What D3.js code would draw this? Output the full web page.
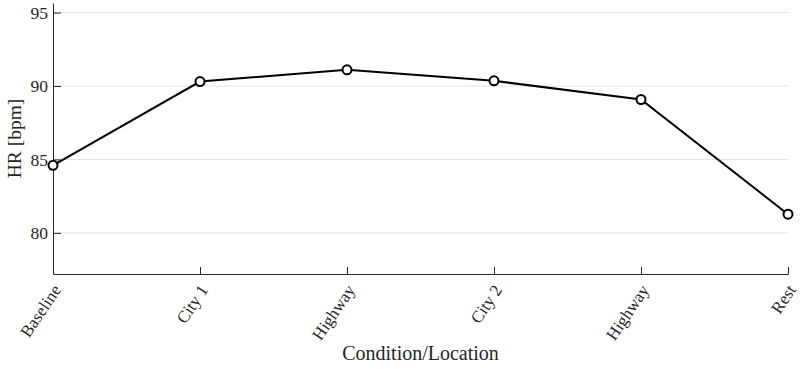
<!DOCTYPE html>
<html><head><meta charset="utf-8">
<script src="https://cdn.jsdelivr.net/npm/d3@7"></script>
<style>body{margin:0;background:#fff}</style>
</head><body>
<svg id="c" width="800" height="369"></svg>
<script>
const categories = ["Baseline","City 1","Highway","City 2","Highway","Rest"];
const hrValues = [84.6, 90.3, 91.1, 90.35, 89.08, 81.27];
const yTicks = [80, 85, 90, 95];
const yLabel = "HR [bpm]";
const xLabel = "Condition/Location";

const svg = d3.select("#c");
const L = 53, R = 788, T = 3, B = 274;
const font = "'Liberation Serif', 'DejaVu Serif', serif";
const x = d3.scaleLinear().domain([0, categories.length - 1]).range([L, R]);
const y = d3.scaleLinear().domain([77.2, 95.65]).range([B, T]);

// grid
svg.append("g").selectAll("line").data(yTicks).join("line")
  .attr("x1", L).attr("x2", R).attr("y1", d => y(d)).attr("y2", d => y(d))
  .attr("stroke", "#e3e3e3").attr("stroke-width", 1);

// y axis
const ya = svg.append("g").attr("transform", `translate(${L},0)`)
  .call(d3.axisLeft(y).tickValues(yTicks).tickSizeInner(-8).tickSizeOuter(0).tickPadding(5));
ya.select(".domain").attr("stroke", "#262626");
ya.selectAll(".tick line").attr("stroke", "#262626");
ya.selectAll("text").attr("font-family", font).attr("font-size", 17.5).attr("fill", "#262626");

// x axis
const xa = svg.append("g").attr("transform", `translate(0,${B})`)
  .call(d3.axisBottom(x).tickValues(d3.range(categories.length)).tickFormat(i => categories[i])
    .tickSizeInner(-7).tickSizeOuter(0).tickPadding(0));
xa.select(".domain").attr("stroke", "#262626");
xa.selectAll(".tick line").attr("stroke", "#262626");
xa.selectAll("text").attr("font-family", font).attr("font-size", 17).attr("fill", "#262626")
  .attr("text-anchor", "end").attr("x", 0).attr("y", 0).attr("dy", "0.72em")
  .attr("transform", "translate(-2,9) rotate(-56)");

// line
const line = d3.line().x((d, i) => x(i)).y(d => y(d));
svg.append("path").datum(hrValues).attr("d", line)
  .attr("fill", "none").attr("stroke", "#000").attr("stroke-width", 2);
svg.append("g").selectAll("circle").data(hrValues).join("circle")
  .attr("cx", (d, i) => x(i)).attr("cy", d => y(d)).attr("r", 4.5)
  .attr("fill", "#fff").attr("stroke", "#000").attr("stroke-width", 2);

// labels
svg.append("text").attr("x", (L + R) / 2).attr("y", 360).attr("text-anchor", "middle")
  .attr("font-family", font).attr("font-size", 20).attr("fill", "#262626").text(xLabel);
svg.append("text").attr("transform", `translate(21,${(T + B) / 2}) rotate(-90)`).attr("text-anchor", "middle")
  .attr("font-family", font).attr("font-size", 19.5).attr("fill", "#262626").text(yLabel);
</script>
</body></html>
